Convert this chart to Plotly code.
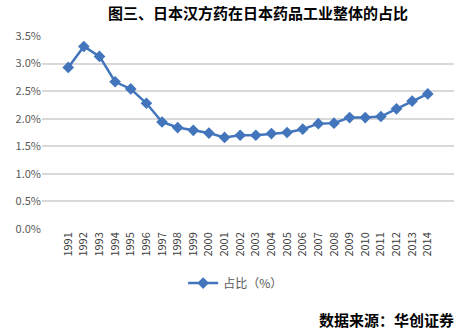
import plotly.graph_objects as go

years = [str(y) for y in range(1991, 2015)]
share = [2.93, 3.31, 3.13, 2.67, 2.54, 2.28, 1.94, 1.84, 1.79, 1.74, 1.66, 1.70,
         1.70, 1.73, 1.75, 1.81, 1.91, 1.92, 2.02, 2.02, 2.04, 2.18, 2.32, 2.45]
y_ticks = [0, 0.5, 1.0, 1.5, 2.0, 2.5, 3.0, 3.5]
y_labels = ["0.0%", "0.5%", "1.0%", "1.5%", "2.0%", "2.5%", "3.0%", "3.5%"]

font_cjk = "Noto Sans CJK SC, Noto Sans, sans-serif"
blue = "#4275BC"

fig = go.Figure()
fig.add_trace(go.Scatter(
    x=years, y=share, mode="lines+markers", name="占比（%）",
    line=dict(color=blue, width=2.5),
    marker=dict(symbol="diamond", size=9, color=blue),
))

fig.update_layout(
    width=476, height=329,
    margin=dict(l=42, r=22, t=36, b=100),
    paper_bgcolor="white", plot_bgcolor="white",
    font=dict(family=font_cjk, color="#595959", size=11),
    title=dict(text="<b>图三、日本汉方药在日本药品工业整体的占比</b>",
               x=258 / 476, xanchor="center", y=1 - 14 / 329, yanchor="middle",
               font=dict(size=15, color="black", family=font_cjk)),
    showlegend=True,
    legend=dict(orientation="h", x=0.47, xanchor="center", y=-0.28, yanchor="middle",
                font=dict(size=12, color="#595959")),
    xaxis=dict(type="category", tickangle=-90, showgrid=False, showline=False,
               ticks="", tickfont=dict(size=11, color="#404040")),
    yaxis=dict(range=[0, 3.5], tickvals=y_ticks, ticktext=y_labels,
               showgrid=True, gridcolor="#D9D9D9", gridwidth=1.5, zeroline=False,
               showline=False, ticks="", tickfont=dict(size=11, color="#595959")),
)

fig.add_annotation(text="<b>数据来源：华创证券</b>", xref="paper", yref="paper",
                   x=1.005, y=(229 - 319) / 193, xanchor="right", yanchor="middle",
                   showarrow=False, font=dict(size=15, color="black", family=font_cjk))

fig.write_html("out.html")
